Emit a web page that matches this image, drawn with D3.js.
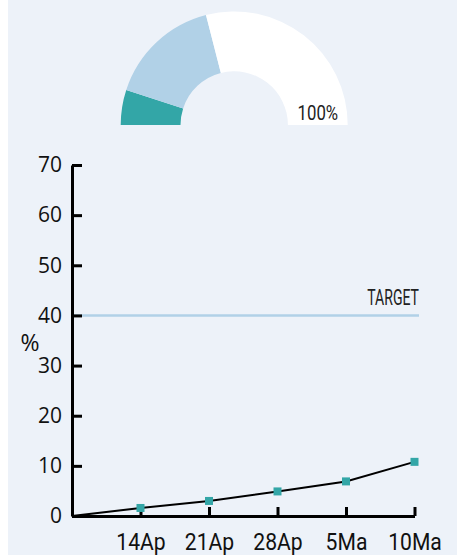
<!DOCTYPE html>
<html>
<head>
<meta charset="utf-8">
<script src="https://cdn.jsdelivr.net/npm/d3@7/dist/d3.min.js"></script>
<style>
  html, body { margin: 0; padding: 0; background: #ffffff; }
  svg { display: block; }
</style>
</head>
<body>
<script>
// ---- data ----
const gaugeLabels = ["actual", "target", "remaining"];
const gaugeValues = [10, 32, 58];           // percent of half-donut
const gaugeTotalLabel = "100%";

const dates = ["14Ap", "21Ap", "28Ap", "5Ma", "10Ma"];
const values = [1.6, 3.0, 4.9, 6.9, 10.8];
const startValue = 0;
const yTicks = [0, 10, 20, 30, 40, 50, 60, 70];
const targetValue = 40;
const targetLabel = "TARGET";
const yLabel = "%";

// ---- styles ----
const W = 457, H = 555;
const bg = "#edf2f9";
const teal = "#33a6a7";
const lightBlue = "#b1d1e7";

const svg = d3.select("body").append("svg").attr("width", W).attr("height", H);
svg.append("rect").attr("x", 8).attr("y", 0).attr("width", W - 8).attr("height", H).attr("fill", bg);

// ---- gauge ----
const gcx = 234.2, gcy = 125, rOuter = 113.5, rInner = 53.7;
const g = svg.append("g").attr("transform", `translate(${gcx},${gcy})`);
const pie = d3.pie().sort(null).value(d => d).startAngle(-Math.PI / 2).endAngle(Math.PI / 2);
const arc = d3.arc().innerRadius(rInner).outerRadius(rOuter);
const gaugeColors = d3.scaleOrdinal().domain(gaugeLabels).range([teal, lightBlue, "#ffffff"]);
g.selectAll("path").data(pie(gaugeValues)).join("path")
  .attr("d", arc)
  .attr("fill", (d, i) => gaugeColors(gaugeLabels[i]));
g.append("text")
  .attr("transform", `translate(${(rInner + rOuter) / 2},-5) scale(0.86,1)`)
  .attr("text-anchor", "middle")
  .attr("font-family", "Roboto, sans-serif")
  .attr("font-size", 19.5)
  .attr("fill", "#222")
  .text(gaugeTotalLabel);

// ---- line chart ----
const x = d3.scalePoint().domain(["start", ...dates]).range([72, 414.5]);
const y = d3.scaleLinear().domain([0, 70]).range([516, 165]);

// target line
svg.append("line")
  .attr("x1", x("start")).attr("x2", 419)
  .attr("y1", y(targetValue)).attr("y2", y(targetValue))
  .attr("stroke", lightBlue).attr("stroke-width", 2.5);
svg.append("text")
  .attr("transform", `translate(419,${y(targetValue) - 10}) scale(0.64,1)`)
  .attr("text-anchor", "end")
  .attr("font-family", "Roboto, sans-serif")
  .attr("font-size", 22)
  .attr("fill", "#222")
  .text(targetLabel);

// y axis
const yAxis = svg.append("g").attr("transform", `translate(${x("start")},0)`)
  .call(d3.axisLeft(y).tickValues(yTicks).tickSizeInner(-10).tickSizeOuter(0).tickPadding(10));
yAxis.select(".domain").attr("stroke", "#000").attr("stroke-width", 3);
yAxis.selectAll(".tick line").attr("stroke", "#000").attr("stroke-width", 3);
yAxis.selectAll(".tick text")
  .attr("font-family", "'Open Sans', sans-serif")
  .attr("font-size", 21)
  .attr("fill", "#111");

// x axis
const xAxis = svg.append("g").attr("transform", `translate(0,${y(0)})`)
  .call(d3.axisBottom(x).tickValues(dates).tickSizeInner(-9).tickSizeOuter(0).tickPadding(17));
xAxis.select(".domain").attr("stroke", "#000").attr("stroke-width", 3);
xAxis.selectAll(".tick line").attr("stroke", "#000").attr("stroke-width", 3);
xAxis.selectAll(".tick text")
  .attr("font-family", "Roboto, sans-serif")
  .attr("font-size", 24)
  .attr("fill", "#111")
  .attr("transform", "scale(0.88,1)");

// y label
svg.append("text")
  .attr("x", 30).attr("y", 351)
  .attr("text-anchor", "middle")
  .attr("font-family", "'Open Sans', sans-serif")
  .attr("font-size", 23)
  .attr("fill", "#111")
  .text(yLabel);

// series line
const pts = [{k: "start", v: startValue}, ...dates.map((d, i) => ({k: d, v: values[i]}))];
svg.append("path")
  .datum(pts)
  .attr("d", d3.line().x(d => x(d.k)).y(d => y(d.v)))
  .attr("fill", "none")
  .attr("stroke", "#000")
  .attr("stroke-width", 2);

const ms = 8;
svg.selectAll("rect.pt").data(pts.slice(1)).join("rect")
  .attr("class", "pt")
  .attr("x", d => x(d.k) - ms / 2)
  .attr("y", d => y(d.v) - ms / 2)
  .attr("width", ms).attr("height", ms)
  .attr("fill", teal);
</script>
</body>
</html>
